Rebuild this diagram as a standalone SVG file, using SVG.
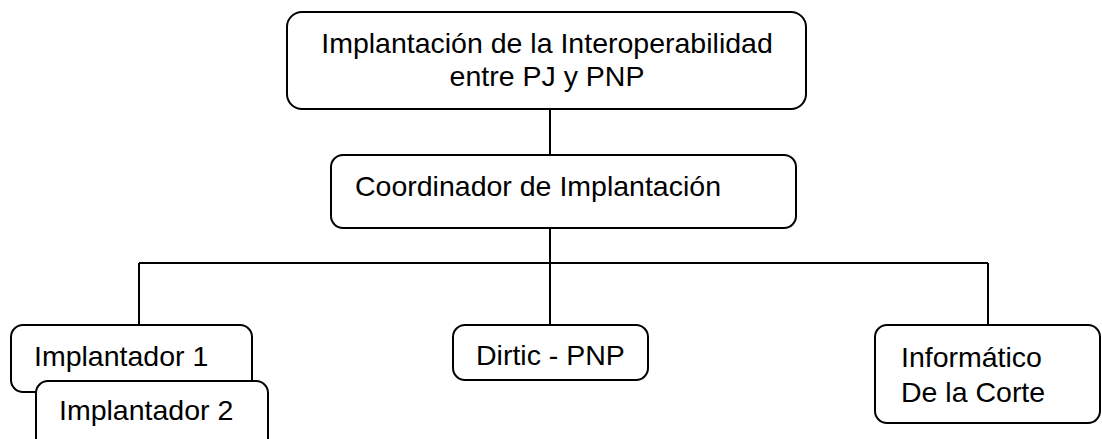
<svg xmlns="http://www.w3.org/2000/svg" width="1102" height="439" viewBox="0 0 1102 439">
<style>
.box{fill:#fff;stroke:#000;stroke-width:2}
.t{font-family:"Liberation Sans",Arial,sans-serif;font-size:28.5px;fill:#000}
.c{fill:none;stroke:#000;stroke-width:2}
</style>
<rect width="1102" height="439" fill="#fff"/>
<g id="connectors">
<path class="c" d="M550 109V155"/>
<path class="c" d="M550 220V263M139 263H988M139 263V325M550 263V325M988 263V325"/>
</g>
<g id="top">
<rect class="box" x="287" y="12" width="519" height="97" rx="15"/>
<text class="t" x="547" y="53" text-anchor="middle">Implantación de la Interoperabilidad</text>
<text class="t" x="547" y="86" text-anchor="middle">entre PJ y PNP</text>
</g>
<g id="coord">
<rect class="box" x="331" y="155" width="465" height="73" rx="12"/>
<text class="t" x="355" y="196">Coordinador de Implantación</text>
</g>
<g id="imp1">
<rect class="box" x="11" y="325" width="241" height="67" rx="12"/>
<text class="t" x="34" y="366">Implantador 1</text>
</g>
<g id="imp2">
<rect class="box" x="36" y="381" width="232" height="70" rx="12"/>
<text class="t" x="59" y="420">Implantador 2</text>
</g>
<g id="dirtic">
<rect class="box" x="453" y="325" width="195" height="55" rx="12"/>
<text class="t" x="476" y="365">Dirtic - PNP</text>
</g>
<g id="info">
<rect class="box" x="875" y="325" width="225" height="98" rx="12"/>
<text class="t" x="901" y="367">Informático</text>
<text class="t" x="901" y="402">De la Corte</text>
</g>
</svg>
